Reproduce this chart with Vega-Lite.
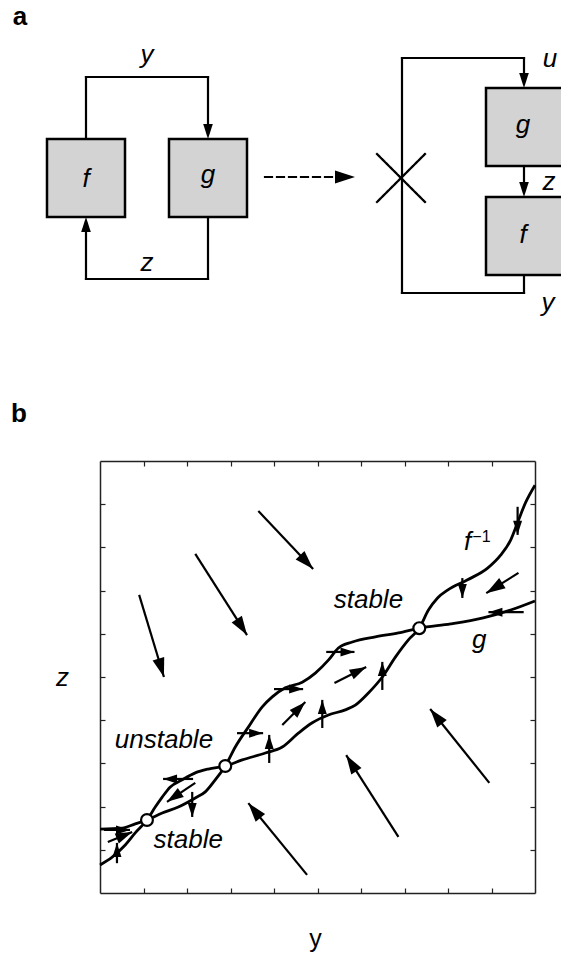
{
  "$schema": "https://vega.github.io/schema/vega-lite/v6.json",
  "width": 435,
  "height": 432,
  "autosize": {"type": "none"},
  "padding": {"left": 100, "top": 461, "right": 26, "bottom": 66},
  "background": "white",
  "config": {"view": {"stroke": null}, "font": "Liberation Sans", "text": {"font": "Liberation Sans", "color": "black"}},
  "datasets": {
    "curves": [
      {"curve": "g", "i": 0, "X": 0, "Y": 1.48},
      {"curve": "g", "i": 1, "X": 0.51, "Y": 1.5},
      {"curve": "g", "i": 2, "X": 0.81, "Y": 1.6},
      {"curve": "g", "i": 3, "X": 1.08, "Y": 1.69},
      {"curve": "g", "i": 4, "X": 1.43, "Y": 1.85},
      {"curve": "g", "i": 5, "X": 1.8, "Y": 1.99},
      {"curve": "g", "i": 6, "X": 2.19, "Y": 2.2},
      {"curve": "g", "i": 7, "X": 2.42, "Y": 2.34},
      {"curve": "g", "i": 8, "X": 2.65, "Y": 2.62},
      {"curve": "g", "i": 9, "X": 2.88, "Y": 2.94},
      {"curve": "g", "i": 10, "X": 3.11, "Y": 3.38},
      {"curve": "g", "i": 11, "X": 3.41, "Y": 3.84},
      {"curve": "g", "i": 12, "X": 3.73, "Y": 4.31},
      {"curve": "g", "i": 13, "X": 3.96, "Y": 4.54},
      {"curve": "g", "i": 14, "X": 4.26, "Y": 4.75},
      {"curve": "g", "i": 15, "X": 4.65, "Y": 4.88},
      {"curve": "g", "i": 16, "X": 4.95, "Y": 5.09},
      {"curve": "g", "i": 17, "X": 5.25, "Y": 5.39},
      {"curve": "g", "i": 18, "X": 5.48, "Y": 5.67},
      {"curve": "g", "i": 19, "X": 5.8, "Y": 5.81},
      {"curve": "g", "i": 20, "X": 6.33, "Y": 5.93},
      {"curve": "g", "i": 21, "X": 6.86, "Y": 6.02},
      {"curve": "g", "i": 22, "X": 7.34, "Y": 6.13},
      {"curve": "g", "i": 23, "X": 8.06, "Y": 6.23},
      {"curve": "g", "i": 24, "X": 8.81, "Y": 6.37},
      {"curve": "g", "i": 25, "X": 9.44, "Y": 6.55},
      {"curve": "g", "i": 26, "X": 10, "Y": 6.76},
      {"curve": "finv", "i": 0, "X": 0, "Y": 0.65},
      {"curve": "finv", "i": 1, "X": 0.28, "Y": 0.83},
      {"curve": "finv", "i": 2, "X": 0.58, "Y": 1.11},
      {"curve": "finv", "i": 3, "X": 0.81, "Y": 1.39},
      {"curve": "finv", "i": 4, "X": 1.08, "Y": 1.69},
      {"curve": "finv", "i": 5, "X": 1.27, "Y": 1.99},
      {"curve": "finv", "i": 6, "X": 1.43, "Y": 2.22},
      {"curve": "finv", "i": 7, "X": 1.61, "Y": 2.45},
      {"curve": "finv", "i": 8, "X": 1.89, "Y": 2.62},
      {"curve": "finv", "i": 9, "X": 2.19, "Y": 2.78},
      {"curve": "finv", "i": 10, "X": 2.49, "Y": 2.87},
      {"curve": "finv", "i": 11, "X": 2.88, "Y": 2.94},
      {"curve": "finv", "i": 12, "X": 3.27, "Y": 3.08},
      {"curve": "finv", "i": 13, "X": 3.8, "Y": 3.24},
      {"curve": "finv", "i": 14, "X": 4.19, "Y": 3.38},
      {"curve": "finv", "i": 15, "X": 4.56, "Y": 3.7},
      {"curve": "finv", "i": 16, "X": 4.88, "Y": 3.94},
      {"curve": "finv", "i": 17, "X": 5.25, "Y": 4.12},
      {"curve": "finv", "i": 18, "X": 5.64, "Y": 4.24},
      {"curve": "finv", "i": 19, "X": 5.87, "Y": 4.35},
      {"curve": "finv", "i": 20, "X": 6.17, "Y": 4.63},
      {"curve": "finv", "i": 21, "X": 6.49, "Y": 5.0},
      {"curve": "finv", "i": 22, "X": 6.79, "Y": 5.46},
      {"curve": "finv", "i": 23, "X": 7.09, "Y": 5.86},
      {"curve": "finv", "i": 24, "X": 7.34, "Y": 6.13},
      {"curve": "finv", "i": 25, "X": 7.55, "Y": 6.55},
      {"curve": "finv", "i": 26, "X": 7.76, "Y": 6.83},
      {"curve": "finv", "i": 27, "X": 7.99, "Y": 7.01},
      {"curve": "finv", "i": 28, "X": 8.45, "Y": 7.25},
      {"curve": "finv", "i": 29, "X": 8.91, "Y": 7.52},
      {"curve": "finv", "i": 30, "X": 9.21, "Y": 7.82},
      {"curve": "finv", "i": 31, "X": 9.44, "Y": 8.17},
      {"curve": "finv", "i": 32, "X": 9.62, "Y": 8.63},
      {"curve": "finv", "i": 33, "X": 9.78, "Y": 9.03},
      {"curve": "finv", "i": 34, "X": 10, "Y": 9.44}
    ],
    "fps": [
      {"X": 1.08, "Y": 1.69},
      {"X": 2.88, "Y": 2.94},
      {"X": 7.34, "Y": 6.13}
    ],
    "arrows": [
      {"kind": "big", "X1": 0.9, "Y1": 6.9, "X2": 1.47, "Y2": 5.0, "angle": 163},
      {"kind": "big", "X1": 2.19, "Y1": 7.85, "X2": 3.38, "Y2": 5.97, "angle": 147.3},
      {"kind": "big", "X1": 3.64, "Y1": 8.84, "X2": 4.9, "Y2": 7.5, "angle": 136.5},
      {"kind": "big", "X1": 9.62, "Y1": 7.41, "X2": 8.88, "Y2": 6.94, "angle": 238},
      {"kind": "big", "X1": 6.86, "Y1": 1.3, "X2": 5.66, "Y2": 3.19, "angle": 327.6},
      {"kind": "big", "X1": 8.95, "Y1": 2.55, "X2": 7.59, "Y2": 4.26, "angle": 321.4},
      {"kind": "big", "X1": 4.76, "Y1": 0.42, "X2": 3.41, "Y2": 2.08, "angle": 320.7},
      {"kind": "medium", "X1": 4.19, "Y1": 3.89, "X2": 4.72, "Y2": 4.42, "angle": 45},
      {"kind": "medium", "X1": 5.39, "Y1": 4.86, "X2": 6.12, "Y2": 5.23, "angle": 63.4},
      {"kind": "medium", "X1": 2.19, "Y1": 2.55, "X2": 1.54, "Y2": 2.11, "angle": 235.8},
      {"kind": "medium", "X1": 0.18, "Y1": 1.18, "X2": 0.74, "Y2": 1.41, "angle": 67.4},
      {"kind": "small", "X1": 3.15, "Y1": 3.7, "X2": 3.75, "Y2": 3.7, "angle": 90},
      {"kind": "small", "X1": 4.0, "Y1": 4.72, "X2": 4.67, "Y2": 4.72, "angle": 90},
      {"kind": "small", "X1": 5.2, "Y1": 5.58, "X2": 5.85, "Y2": 5.58, "angle": 90},
      {"kind": "small", "X1": 2.14, "Y1": 2.64, "X2": 1.45, "Y2": 2.64, "angle": 270},
      {"kind": "small", "X1": 9.74, "Y1": 6.5, "X2": 8.93, "Y2": 6.5, "angle": 270},
      {"kind": "small", "X1": 0.09, "Y1": 1.46, "X2": 0.69, "Y2": 1.46, "angle": 90},
      {"kind": "small", "X1": 3.89, "Y1": 3.01, "X2": 3.89, "Y2": 3.66, "angle": 0},
      {"kind": "small", "X1": 5.11, "Y1": 3.82, "X2": 5.11, "Y2": 4.47, "angle": 0},
      {"kind": "small", "X1": 6.49, "Y1": 4.7, "X2": 6.49, "Y2": 5.35, "angle": 0},
      {"kind": "small", "X1": 2.12, "Y1": 2.34, "X2": 2.12, "Y2": 1.76, "angle": 180},
      {"kind": "small", "X1": 0.39, "Y1": 0.69, "X2": 0.39, "Y2": 1.16, "angle": 0},
      {"kind": "small", "X1": 8.33, "Y1": 7.29, "X2": 8.33, "Y2": 6.83, "angle": 180},
      {"kind": "small", "X1": 9.6, "Y1": 8.94, "X2": 9.6, "Y2": 8.29, "angle": 180}
    ],
    "ptext": [
      {"t": "stable", "X": 6.17, "Y": 6.6},
      {"t": "unstable", "X": 1.47, "Y": 3.36},
      {"t": "stable", "X": 2.03, "Y": 1.04},
      {"t": "g", "X": 8.72, "Y": 5.67},
      {"t": "f", "X": 8.45, "Y": 7.94}
    ],
    "psup": [
      {"t": "−1", "X": 8.77, "Y": 8.13}
    ],
    "boxes": [
      {"x1": 47, "x2": 125, "y1": 139, "y2": 217},
      {"x1": 169, "x2": 247, "y1": 139, "y2": 217},
      {"x1": 486, "x2": 590, "y1": 88, "y2": 166},
      {"x1": 486, "x2": 590, "y1": 197, "y2": 275}
    ],
    "segs": [
      {"style": "solid", "x1": 86, "y1": 139, "x2": 86, "y2": 77},
      {"style": "solid", "x1": 86, "y1": 77, "x2": 208, "y2": 77},
      {"style": "solid", "x1": 208, "y1": 77, "x2": 208, "y2": 126},
      {"style": "solid", "x1": 208, "y1": 217, "x2": 208, "y2": 279},
      {"style": "solid", "x1": 208, "y1": 279, "x2": 86, "y2": 279},
      {"style": "solid", "x1": 86, "y1": 279, "x2": 86, "y2": 230},
      {"style": "solid", "x1": 524, "y1": 275, "x2": 524, "y2": 293},
      {"style": "solid", "x1": 524, "y1": 293, "x2": 402, "y2": 293},
      {"style": "solid", "x1": 402, "y1": 293, "x2": 402, "y2": 58},
      {"style": "solid", "x1": 402, "y1": 58, "x2": 524, "y2": 58},
      {"style": "solid", "x1": 524, "y1": 58, "x2": 524, "y2": 75},
      {"style": "solid", "x1": 524, "y1": 166, "x2": 524, "y2": 185},
      {"style": "solid", "x1": 377, "y1": 154, "x2": 425, "y2": 202},
      {"style": "solid", "x1": 377, "y1": 202, "x2": 425, "y2": 154},
      {"style": "dashed", "x1": 265, "y1": 177, "x2": 338, "y2": 177}
    ],
    "dheads": [
      {"kind": "normal", "x": 208, "y": 139, "angle": 180},
      {"kind": "normal", "x": 86, "y": 217, "angle": 0},
      {"kind": "normal", "x": 524, "y": 88, "angle": 180},
      {"kind": "normal", "x": 524, "y": 197, "angle": 180},
      {"kind": "dash", "x": 355, "y": 177, "angle": 90}
    ],
    "dlabels": [
      {"t": "y", "x": 147, "y": 63},
      {"t": "f", "x": 86, "y": 187},
      {"t": "g", "x": 208, "y": 183},
      {"t": "z", "x": 147, "y": 271},
      {"t": "u", "x": 550, "y": 67},
      {"t": "g", "x": 523, "y": 133},
      {"t": "z", "x": 549, "y": 190},
      {"t": "f", "x": 523, "y": 243},
      {"t": "y", "x": 548, "y": 311}
    ],
    "panels": [
      {"t": "a", "x": 20, "y": 25},
      {"t": "b", "x": 19, "y": 422}
    ]
  },
  "layer": [
    {
      "layer": [
        {
          "data": {"name": "curves"},
          "mark": {"type": "line", "interpolate": "monotone", "stroke": "black", "strokeWidth": 2.8},
          "encoding": {
            "x": {"field": "X", "type": "quantitative", "scale": {"domain": [0, 10], "nice": false, "zero": false},
              "axis": {"orient": "bottom", "values": [1, 2, 3, 4, 5, 6, 7, 8, 9], "tickSize": -5, "labels": false, "grid": false,
                "domainColor": "#222", "domainWidth": 1.5, "tickColor": "#222", "tickWidth": 1.2,
                "title": "y", "titleFont": "Liberation Sans", "titleFontSize": 25, "titleFontWeight": "normal", "titleColor": "black",
                "titleX": 215, "titleY": 53, "titleBaseline": "alphabetic", "titleAlign": "center"}},
            "y": {"field": "Y", "type": "quantitative", "scale": {"domain": [0, 10], "nice": false, "zero": false},
              "axis": {"orient": "left", "values": [1, 2, 3, 4, 5, 6, 7, 8, 9], "tickSize": -5, "labels": false, "grid": false,
                "domainColor": "#222", "domainWidth": 1.5, "tickColor": "#222", "tickWidth": 1.2,
                "title": "z", "titleFont": "Liberation Sans", "titleFontSize": 26, "titleFontWeight": "normal", "titleFontStyle": "italic", "titleColor": "black",
                "titleAngle": 0, "titleX": -38, "titleY": 224, "titleBaseline": "alphabetic", "titleAlign": "center"}},
            "detail": {"field": "curve"},
            "order": {"field": "i", "type": "quantitative"}
          }
        },
        {
          "data": {"name": "fps"},
          "mark": {"type": "point", "opacity": 0},
          "encoding": {
            "x": {"field": "X", "type": "quantitative", "scale": {"domain": [0, 10], "nice": false, "zero": false},
              "axis": {"orient": "top", "values": [1, 2, 3, 4, 5, 6, 7, 8, 9], "tickSize": -5, "labels": false, "grid": false,
                "domainColor": "#222", "domainWidth": 1.5, "tickColor": "#222", "tickWidth": 1.2, "title": null}},
            "y": {"field": "Y", "type": "quantitative", "scale": {"domain": [0, 10], "nice": false, "zero": false},
              "axis": {"orient": "right", "values": [1, 2, 3, 4, 5, 6, 7, 8, 9], "tickSize": -5, "labels": false, "grid": false,
                "domainColor": "#222", "domainWidth": 1.5, "tickColor": "#222", "tickWidth": 1.2, "title": null}}
          }
        },
        {
          "data": {"name": "arrows"},
          "mark": {"type": "rule", "stroke": "black"},
          "encoding": {
            "x": {"field": "X1", "type": "quantitative", "scale": {"domain": [0, 10], "nice": false, "zero": false}, "axis": null},
            "y": {"field": "Y1", "type": "quantitative", "scale": {"domain": [0, 10], "nice": false, "zero": false}, "axis": null},
            "x2": {"field": "X2"},
            "y2": {"field": "Y2"},
            "strokeWidth": {"field": "kind", "type": "nominal", "scale": {"domain": ["big", "medium", "small"], "range": [2.2, 2.2, 1.2]}, "legend": null}
          }
        },
        {
          "data": {"name": "arrows"},
          "mark": {"type": "point", "shape": "M0,0L-0.64,2L0.64,2Z", "filled": true, "fill": "black", "strokeWidth": 0, "opacity": 1},
          "encoding": {
            "x": {"field": "X2", "type": "quantitative", "scale": {"domain": [0, 10], "nice": false, "zero": false}, "axis": null},
            "y": {"field": "Y2", "type": "quantitative", "scale": {"domain": [0, 10], "nice": false, "zero": false}, "axis": null},
            "angle": {"field": "angle", "type": "quantitative", "scale": null},
            "size": {"field": "kind", "type": "nominal", "scale": {"domain": ["big", "medium", "small"], "range": [361, 196, 64]}, "legend": null}
          }
        },
        {
          "data": {"name": "fps"},
          "mark": {"type": "point", "shape": "circle", "filled": true, "fill": "white", "stroke": "black", "strokeWidth": 2.2, "size": 140, "opacity": 1},
          "encoding": {
            "x": {"field": "X", "type": "quantitative", "scale": {"domain": [0, 10], "nice": false, "zero": false}, "axis": null},
            "y": {"field": "Y", "type": "quantitative", "scale": {"domain": [0, 10], "nice": false, "zero": false}, "axis": null}
          }
        },
        {
          "data": {"name": "ptext"},
          "mark": {"type": "text", "fontSize": 26, "fontStyle": "italic", "align": "center", "baseline": "alphabetic", "color": "black"},
          "encoding": {
            "x": {"field": "X", "type": "quantitative", "scale": {"domain": [0, 10], "nice": false, "zero": false}, "axis": null},
            "y": {"field": "Y", "type": "quantitative", "scale": {"domain": [0, 10], "nice": false, "zero": false}, "axis": null},
            "text": {"field": "t"}
          }
        },
        {
          "data": {"name": "psup"},
          "mark": {"type": "text", "fontSize": 16, "align": "center", "baseline": "alphabetic", "color": "black"},
          "encoding": {
            "x": {"field": "X", "type": "quantitative", "scale": {"domain": [0, 10], "nice": false, "zero": false}, "axis": null},
            "y": {"field": "Y", "type": "quantitative", "scale": {"domain": [0, 10], "nice": false, "zero": false}, "axis": null},
            "text": {"field": "t"}
          }
        }
      ],
      "resolve": {"axis": {"x": "independent", "y": "independent"}}
    },
    {
      "layer": [
        {
          "data": {"name": "boxes"},
          "mark": {"type": "rect", "fill": "#d3d3d3", "stroke": "black", "strokeWidth": 2.5},
          "encoding": {
            "x": {"field": "x1", "type": "quantitative", "scale": {"domain": [100, 535], "nice": false, "zero": false}, "axis": null},
            "x2": {"field": "x2"},
            "y": {"field": "y1", "type": "quantitative", "scale": {"domain": [461, 893], "nice": false, "zero": false, "reverse": true}, "axis": null},
            "y2": {"field": "y2"}
          }
        },
        {
          "data": {"name": "segs"},
          "mark": {"type": "rule", "stroke": "black", "strokeWidth": 2.2, "strokeCap": "square"},
          "encoding": {
            "x": {"field": "x1", "type": "quantitative", "scale": {"domain": [100, 535], "nice": false, "zero": false}, "axis": null},
            "x2": {"field": "x2"},
            "y": {"field": "y1", "type": "quantitative", "scale": {"domain": [461, 893], "nice": false, "zero": false, "reverse": true}, "axis": null},
            "y2": {"field": "y2"},
            "strokeDash": {"field": "style", "type": "nominal", "scale": {"domain": ["solid", "dashed"], "range": [[1, 0], [7, 5]]}, "legend": null}
          }
        },
        {
          "data": {"name": "dheads"},
          "mark": {"type": "point", "shape": "M0,0L-0.64,2L0.64,2Z", "filled": true, "fill": "black", "strokeWidth": 0, "opacity": 1},
          "encoding": {
            "x": {"field": "x", "type": "quantitative", "scale": {"domain": [100, 535], "nice": false, "zero": false}, "axis": null},
            "y": {"field": "y", "type": "quantitative", "scale": {"domain": [461, 893], "nice": false, "zero": false, "reverse": true}, "axis": null},
            "angle": {"field": "angle", "type": "quantitative", "scale": null},
            "size": {"field": "kind", "type": "nominal", "scale": {"domain": ["normal", "dash"], "range": [225, 400]}, "legend": null}
          }
        },
        {
          "data": {"name": "dlabels"},
          "mark": {"type": "text", "fontSize": 26, "fontStyle": "italic", "align": "center", "baseline": "alphabetic", "color": "black"},
          "encoding": {
            "x": {"field": "x", "type": "quantitative", "scale": {"domain": [100, 535], "nice": false, "zero": false}, "axis": null},
            "y": {"field": "y", "type": "quantitative", "scale": {"domain": [461, 893], "nice": false, "zero": false, "reverse": true}, "axis": null},
            "text": {"field": "t"}
          }
        },
        {
          "data": {"name": "panels"},
          "mark": {"type": "text", "fontSize": 26, "fontWeight": "bold", "align": "center", "baseline": "alphabetic", "color": "black"},
          "encoding": {
            "x": {"field": "x", "type": "quantitative", "scale": {"domain": [100, 535], "nice": false, "zero": false}, "axis": null},
            "y": {"field": "y", "type": "quantitative", "scale": {"domain": [461, 893], "nice": false, "zero": false, "reverse": true}, "axis": null},
            "text": {"field": "t"}
          }
        }
      ]
    }
  ],
  "resolve": {
    "scale": {"x": "independent", "y": "independent", "size": "independent", "strokeWidth": "independent", "strokeDash": "independent"},
    "axis": {"x": "independent", "y": "independent"}
  }
}
